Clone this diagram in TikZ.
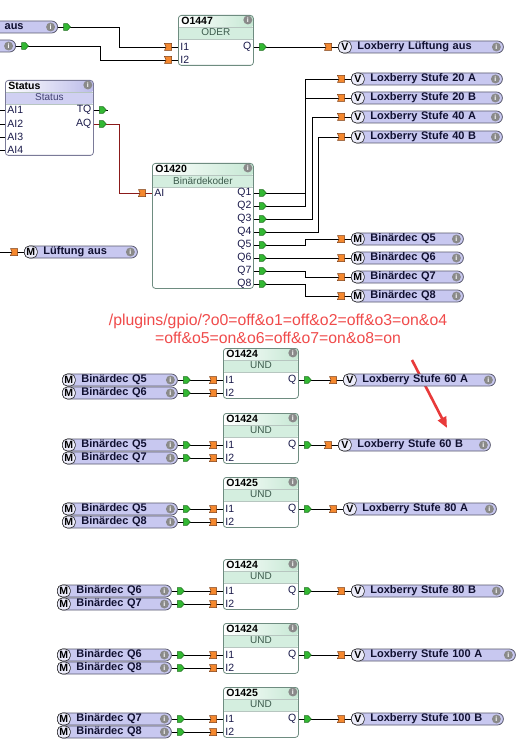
\documentclass[tikz,border=0pt]{standalone}
\usepackage{fontspec}
\setmainfont{Liberation Sans}
\usetikzlibrary{positioning,arrows.meta,calc,decorations.markings}

\definecolor{pillc}{HTML}{C8C8F0}
\definecolor{pilld}{HTML}{5A5A6E}
\definecolor{pillt}{HTML}{101030}
\definecolor{infoc}{HTML}{8A8A8A}
\definecolor{blkd}{HTML}{6E8C80}
\definecolor{statd}{HTML}{7A7A98}
\definecolor{hdgreen}{HTML}{C6E8D4}
\definecolor{sbgreen}{HTML}{D4EEDF}
\definecolor{hdlav}{HTML}{BCBCEA}
\definecolor{sblav}{HTML}{D0D0F2}
\definecolor{sbtext}{HTML}{3C5A4C}
\definecolor{sltext}{HTML}{404070}
\definecolor{pint}{HTML}{1A1A4A}
\definecolor{gpc}{HTML}{33B833}
\definecolor{gpd}{HTML}{1E6E1E}
\definecolor{opc}{HTML}{F5882E}
\definecolor{opd}{HTML}{7A3A10}
\definecolor{aqc}{HTML}{8B1A1A}
\definecolor{notec}{HTML}{F04B4B}
\definecolor{arrc}{HTML}{E83A3A}

\begin{document}
\begin{tikzpicture}[
  x=1pt, y=-1pt, line width=.8pt,
  pill/.style={draw=pilld, fill=pillc, rounded corners=6pt, minimum height=12pt,
    inner ysep=0pt, inner xsep=19pt, anchor=west, align=left, text=pillt,
    font=\fontsize{11}{12}\selectfont\bfseries},
  vpill/.style={pill, text width=#1, label={[badge]west:V}, label={[info]east:i}},
  mpill/.style={pill, text width=#1, label={[badge]west:M}, label={[info]east:i}},
  badge/.style={draw=black!85, line width=.6pt, fill=pillc!35!white, rounded corners=5pt,
    anchor=west, minimum width=13pt, minimum height=12pt, inner sep=0pt, text=black,
    font=\fontsize{10.5}{12}\selectfont\bfseries},
  info/.style={circle, fill=infoc, text=white, inner sep=0pt, minimum size=9pt,
    anchor=east, xshift=-2.5pt, font=\fontsize{7}{7}\selectfont\bfseries},
  blk/.style={draw=blkd, fill=white, rounded corners=3pt, anchor=north west, inner sep=0pt},
  hdr/.style={path picture={
    \shade[left color=white, right color=hd#1] (path picture bounding box.north west)
      rectangle ([yshift=-12pt]path picture bounding box.north east);
    \fill[sb#1] ([yshift=-12pt]path picture bounding box.north west)
      rectangle ([yshift=-24pt]path picture bounding box.north east);
    \draw[line width=.5pt, blkd!50]
      ([yshift=-12pt]path picture bounding box.north west) -- ([yshift=-12pt]path picture bounding box.north east)
      ([yshift=-24pt]path picture bounding box.north west) -- ([yshift=-24pt]path picture bounding box.north east);}},
  und/.style={blk, hdr=green, minimum width=75pt, minimum height=50pt,
    label={[blksub]north:UND}, label={[blkinfo]north east:i}},
  blkname/.style={anchor=north west, inner sep=0pt, xshift=3pt, yshift=-1.5pt,
    font=\fontsize{10.5}{12}\selectfont\bfseries},
  blksub/.style={anchor=north, inner sep=0pt, yshift=-13.5pt, text=sbtext,
    font=\fontsize{10}{11}\selectfont},
  blkinfo/.style={info, anchor=north east, yshift=-1.5pt},
  pinl/.style={anchor=west, inner sep=2pt, text=pint, font=\fontsize{10.5}{12}\selectfont},
  pinr/.style={pinl, anchor=east},
  gport/.pic={\filldraw[fill=gpc, draw=gpd, line width=.5pt]
    (-3.5,-3.3) -- (0.5,-3.3) -- (3.5,0) -- (0.5,3.3) -- (-3.5,3.3) -- cycle;},
  oport/.pic={\filldraw[fill=opc, draw=opd, line width=.5pt]
    (-3.5,-3.5) -- (3.5,-3.5) -- (3.5,3.5) -- (-3.5,3.5) -- (-2,0) -- cycle;},
  wire/.style={draw, postaction={decorate, decoration={markings,
    mark=at position 9pt with {\pic{gport};},
    mark=at position -10pt with {\pic{oport};}}}},
  gwire/.style={draw, postaction={decorate, decoration={markings,
    mark=at position 9pt with {\pic{gport};}}}},
  owire/.style={draw, postaction={decorate, decoration={markings,
    mark=at position -10pt with {\pic{oport};}}}},
  note/.style={text=notec, align=center, font=\fontsize{15.8}{18}\selectfont},
  hint/.style={draw=arrc, line width=2.6pt, -{Triangle[length=11pt,width=9pt]}},
]
\path[use as bounding box, fill=white] (0,0) rectangle (527,746);

% ODER
\node[pill, anchor=east, text width=30pt, align=right, inner xsep=34pt,
  label={[info]east:i}] (paus) at (58,27) {aus};
\node[pill, anchor=east, minimum width=70pt, label={[info]east:i}] (pq) at (16,46) {};
\node[blk, hdr=green, minimum width=75pt, minimum height=50pt,
  label={[blkname]north west:O1447}, label={[blksub]north:ODER},
  label={[blkinfo]north east:i}] (o1447) at (178,15) {};
\node[pinl] (o1447i1) at ([yshift=-32pt]o1447.north west) {I1};
\node[pinl] (o1447i2) at ([yshift=-45pt]o1447.north west) {I2};
\node[pinr] (o1447q) at ([yshift=-32pt]o1447.north east) {Q};
\node[vpill=127pt] (vlfa) at (338,47) {Loxberry Lüftung aus};
\draw[wire] (paus.east) -- ++(61,0) |- (o1447.west |- o1447i1);
\draw[wire] (pq.east) -- ++(84,0) |- (o1447.west |- o1447i2);
\draw[wire] (o1447.east |- o1447q) -- (vlfa.west);

% Status
\node[blk, hdr=lav, draw=statd, minimum width=88pt, minimum height=75pt,
  label={[blkname]north west:Status}, label={[blksub, text=sltext]north:Status},
  label={[blkinfo]north east:i}] (stat) at (5,80) {};
\node[pinl] (sai1) at ([yshift=-30pt]stat.north west) {AI1};
\node[pinl] (sai2) at ([yshift=-44pt]stat.north west) {AI2};
\node[pinl] (sai3) at ([yshift=-57pt]stat.north west) {AI3};
\node[pinl] (sai4) at ([yshift=-70pt]stat.north west) {AI4};
\node[pinr] (stq) at ([yshift=-30pt]stat.north east) {TQ};
\node[pinr] (saq) at ([yshift=-44pt]stat.north east) {AQ};
\draw (stat.west |- sai1) -- ++(-7,0);
\draw (stat.west |- sai2) -- ++(-7,0);
\draw (stat.west |- sai3) -- ++(-7,0);
\draw (stat.west |- sai4) -- ++(-7,0);
\draw[gwire] (stat.east |- stq) -- ++(14,0);

% Binaerdekoder
\node[blk, hdr=green, minimum width=101pt, minimum height=125pt,
  label={[blkname]north west:O1420}, label={[blksub]north:Binärdekoder},
  label={[blkinfo]north east:i}] (o1420) at (152,163) {};
\node[pinl] (bai) at ([yshift=-30pt]o1420.north west) {AI};
\node[pinr] (bq1) at ([yshift=-30pt]o1420.north east) {Q1};
\node[pinr] (bq2) at ([yshift=-43pt]o1420.north east) {Q2};
\node[pinr] (bq3) at ([yshift=-56pt]o1420.north east) {Q3};
\node[pinr] (bq4) at ([yshift=-69pt]o1420.north east) {Q4};
\node[pinr] (bq5) at ([yshift=-82pt]o1420.north east) {Q5};
\node[pinr] (bq6) at ([yshift=-95pt]o1420.north east) {Q6};
\node[pinr] (bq7) at ([yshift=-108pt]o1420.north east) {Q7};
\node[pinr] (bq8) at ([yshift=-121pt]o1420.north east) {Q8};
\draw[wire, draw=aqc] (stat.east |- saq) -- ++(26,0) |- (o1420.west |- bai);

\node[vpill=113pt] (v20a) at (351,79) {Loxberry Stufe 20 A};
\node[vpill=113pt] (v20b) at (351,98) {Loxberry Stufe 20 B};
\node[vpill=113pt] (v40a) at (351,117) {Loxberry Stufe 40 A};
\node[vpill=113pt] (v40b) at (351,137) {Loxberry Stufe 40 B};
\node[mpill=74pt] (mq5) at (351,239) {Binärdec Q5};
\node[mpill=74pt] (mq6) at (351,258) {Binärdec Q6};
\node[mpill=74pt] (mq7) at (351,277) {Binärdec Q7};
\node[mpill=74pt] (mq8) at (351,296) {Binärdec Q8};
\draw[wire] (o1420.east |- bq1) -- ++(52,0) |- (v20a.west);
\draw[wire] (o1420.east |- bq2) -- ++(52,0) |- (v20b.west);
\draw[wire] (o1420.east |- bq3) -- ++(59,0) |- (v40a.west);
\draw[wire] (o1420.east |- bq4) -- ++(65,0) |- (v40b.west);
\draw[wire] (o1420.east |- bq5) -- ++(52,0) |- (mq5.west);
\draw[wire] (o1420.east |- bq6) -- (mq6.west);
\draw[wire] (o1420.east |- bq7) -- ++(52,0) |- (mq7.west);
\draw[wire] (o1420.east |- bq8) -- ++(52,0) |- (mq8.west);

\coordinate (lfin) at (-3,252);
\node[mpill=75pt] (mlfa) at (24,252) {Lüftung aus};
\draw[owire] (lfin) -- (mlfa.west);

% note
\node[note] (url) at (278,329) {/plugins/gpio/?o0=off\&o1=off\&o2=off\&o3=on\&o4\\=off\&o5=on\&o6=off\&o7=on\&o8=on};
\coordinate (hintfrom) at (412,360);
\coordinate (hintto) at (447,428);
\draw[hint] (hintfrom) -- (hintto);

% UND 1
\node[und, label={[blkname]north west:O1424}] (u1) at (223,348) {};
\node[pinl] (u1i1) at ([yshift=-32pt]u1.north west) {I1};
\node[pinl] (u1i2) at ([yshift=-45pt]u1.north west) {I2};
\node[pinr] (u1q) at ([yshift=-32pt]u1.north east) {Q};
\node[mpill=77pt] (u1a) at (62,380) {Binärdec Q5};
\node[mpill=77pt] (u1b) at (62,393) {Binärdec Q6};
\node[vpill=114pt] (u1v) at (343,380) {Loxberry Stufe 60 A};
\draw[wire] (u1a.east) -- (u1.west |- u1i1);
\draw[wire] (u1b.east) -- (u1.west |- u1i2);
\draw[wire] (u1.east |- u1q) -- (u1v.west);

% UND 2
\node[und, label={[blkname]north west:O1424}] (u2) at (223,413) {};
\node[pinl] (u2i1) at ([yshift=-32pt]u2.north west) {I1};
\node[pinl] (u2i2) at ([yshift=-45pt]u2.north west) {I2};
\node[pinr] (u2q) at ([yshift=-32pt]u2.north east) {Q};
\node[mpill=77pt] (u2a) at (62,445) {Binärdec Q5};
\node[mpill=77pt] (u2b) at (62,458) {Binärdec Q7};
\node[vpill=114pt] (u2v) at (338,445) {Loxberry Stufe 60 B};
\draw[wire] (u2a.east) -- (u2.west |- u2i1);
\draw[wire] (u2b.east) -- (u2.west |- u2i2);
\draw[wire] (u2.east |- u2q) -- (u2v.west);

% UND 3
\node[und, label={[blkname]north west:O1425}] (u3) at (223,477) {};
\node[pinl] (u3i1) at ([yshift=-32pt]u3.north west) {I1};
\node[pinl] (u3i2) at ([yshift=-45pt]u3.north west) {I2};
\node[pinr] (u3q) at ([yshift=-32pt]u3.north east) {Q};
\node[mpill=77pt] (u3a) at (62,509) {Binärdec Q5};
\node[mpill=77pt] (u3b) at (62,522) {Binärdec Q8};
\node[vpill=115pt] (u3v) at (343,509) {Loxberry Stufe 80 A};
\draw[wire] (u3a.east) -- (u3.west |- u3i1);
\draw[wire] (u3b.east) -- (u3.west |- u3i2);
\draw[wire] (u3.east |- u3q) -- (u3v.west);

% UND 4
\node[und, label={[blkname]north west:O1424}] (u4) at (223,559) {};
\node[pinl] (u4i1) at ([yshift=-32pt]u4.north west) {I1};
\node[pinl] (u4i2) at ([yshift=-45pt]u4.north west) {I2};
\node[pinr] (u4q) at ([yshift=-32pt]u4.north east) {Q};
\node[mpill=76pt] (u4a) at (57,591) {Binärdec Q6};
\node[mpill=76pt] (u4b) at (57,604) {Binärdec Q7};
\node[vpill=114pt] (u4v) at (351,591) {Loxberry Stufe 80 B};
\draw[wire] (u4a.east) -- (u4.west |- u4i1);
\draw[wire] (u4b.east) -- (u4.west |- u4i2);
\draw[wire] (u4.east |- u4q) -- (u4v.west);

% UND 5
\node[und, label={[blkname]north west:O1424}] (u5) at (223,623) {};
\node[pinl] (u5i1) at ([yshift=-32pt]u5.north west) {I1};
\node[pinl] (u5i2) at ([yshift=-45pt]u5.north west) {I2};
\node[pinr] (u5q) at ([yshift=-32pt]u5.north east) {Q};
\node[mpill=76pt] (u5a) at (57,655) {Binärdec Q6};
\node[mpill=76pt] (u5b) at (57,668) {Binärdec Q8};
\node[vpill=126pt] (u5v) at (351,655) {Loxberry Stufe 100 A};
\draw[wire] (u5a.east) -- (u5.west |- u5i1);
\draw[wire] (u5b.east) -- (u5.west |- u5i2);
\draw[wire] (u5.east |- u5q) -- (u5v.west);

% UND 6
\node[und, label={[blkname]north west:O1425}] (u6) at (223,687) {};
\node[pinl] (u6i1) at ([yshift=-32pt]u6.north west) {I1};
\node[pinl] (u6i2) at ([yshift=-45pt]u6.north west) {I2};
\node[pinr] (u6q) at ([yshift=-32pt]u6.north east) {Q};
\node[mpill=76pt] (u6a) at (57,719) {Binärdec Q7};
\node[mpill=76pt] (u6b) at (57,732) {Binärdec Q8};
\node[vpill=114pt] (u6v) at (351,719) {Loxberry Stufe 100 B};
\draw[wire] (u6a.east) -- (u6.west |- u6i1);
\draw[wire] (u6b.east) -- (u6.west |- u6i2);
\draw[wire] (u6.east |- u6q) -- (u6v.west);
\end{tikzpicture}
\end{document}
